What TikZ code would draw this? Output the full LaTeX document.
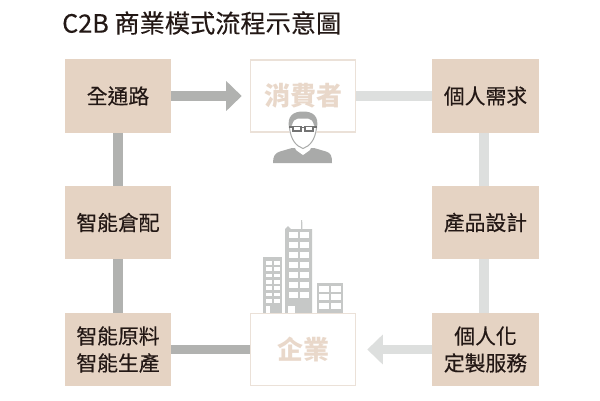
\documentclass[tikz,border=0pt]{standalone}
\usepackage{fontspec}
\setmainfont[FakeBold=0.3]{Noto Sans CJK TC}
\newfontfamily\paleface{Noto Sans CJK TC}
\usetikzlibrary{arrows.meta}
\definecolor{tan}{HTML}{E5D3C3}
\definecolor{fade}{HTML}{E9D8CA}
\definecolor{edge}{HTML}{EBE1D8}
\definecolor{ink}{HTML}{231815}
\definecolor{darkgr}{HTML}{B1B2B0}
\definecolor{lightgr}{HTML}{DDDFDE}
\definecolor{icon}{HTML}{A9AAA9}
\definecolor{bld}{HTML}{C6C8C7}
\tikzset{
 solidbox/.style={fill=tan,minimum width=106.5pt,minimum height=73.5pt,inner sep=0pt,text=ink,font=\fontsize{20.8}{27}\selectfont,align=center},
 palebox/.style={fill=white,draw=edge,line width=1.6pt,minimum width=105pt,minimum height=72pt,inner sep=0pt,text=fade,font=\fontsize{26}{30}\paleface\bfseries},
 darkline/.style={draw=darkgr,line width=9.5pt},
 paleline/.style={draw=lightgr,line width=9.5pt},
 headtip/.style={-{Triangle[length=15.5pt,width=29pt]}},
 win/.style={fill=white,draw=none}
}
\begin{document}
\begin{tikzpicture}[x=1pt,y=-1pt]
\useasboundingbox[fill=white] (0,0) rectangle (600,400);
\node[anchor=west,text=ink,font=\fontsize{25.2}{30}\selectfont,inner sep=0pt] (title) at (62,23) {C2B 商業模式流程示意圖};
\node[solidbox] (a) at (118,96) {全通路};
\node[solidbox] (b) at (118,222.5) {智能倉配};
\node[solidbox] (c) at (118,349.5) {智能原料\\智能生產};
\node[solidbox] (d) at (485.5,96) {個人需求};
\node[solidbox] (e) at (485.5,222.5) {產品設計};
\node[solidbox] (f) at (485.5,349.5) {個人化\\定製服務};
% buildings
\fill[bld] (263,257) rectangle (282,313);
\fill[bld] (285,229) -- (288,226) -- (291,229) -- (301,229) -- (301.2,220) -- (302.2,220) -- (302.4,229) -- (312,229) -- (312,313) -- (285,313) -- cycle;
\fill[bld] (316.5,283) rectangle (343,313);
\foreach \y in {261,267,273.5,280,286,292.5,299}{
 \fill[win] (265.5,\y) rectangle (271.5,\y+3.5);
 \fill[win] (273.5,\y) rectangle (279.5,\y+3.5);}
\fill[win] (265.5,306) rectangle (270,313);
\foreach \y in {232,242,252,262,272,282,292}{
 \fill[win] (289,\y) rectangle (297.5,\y+6);
 \fill[win] (300,\y) rectangle (308.5,\y+6);}
\fill[win] (288,306) rectangle (294.5,313);
\foreach \y in {285.5,294,302.5}{
 \fill[win] (318.5,\y) rectangle (329,\y+6);
 \fill[win] (331,\y) rectangle (341,\y+6);}
\node[palebox] (g) at (303,96) {消費者};
\node[palebox] (h) at (303,349.5) {企業};
% connectors
\draw[darkline] (a) -- (b);
\draw[darkline] (b) -- (c);
\draw[paleline] ([xshift=-1.5pt]d.south) -- ([xshift=-1.5pt]e.north);
\draw[paleline] ([xshift=-1.5pt]e.south) -- ([xshift=-1.5pt]f.north);
\draw[darkline,headtip,shorten >=8pt] (a.east) -- (g.west);
\draw[paleline] (g.east) -- (d.west);
\draw[darkline] (c.east) -- (h.west);
\draw[paleline,headtip,shorten >=11pt] (f.west) -- (h.east);
% person
\fill[icon] (273,163) .. controls (273,156) and (275,153) .. (280,151.5) -- (292,148) -- (314,148) -- (326,151.5) .. controls (331,153) and (332,156) .. (332,163) -- cycle;
\fill[white] (289,126) .. controls (289,140) and (296,148) .. (296,150) -- (303,155) -- (310,150) .. controls (310,148) and (317,140) .. (317,126) -- cycle;
\draw[icon,line width=1pt] (289.5,128) .. controls (291,140) and (296,146) .. (303,148.5) .. controls (310,146) and (315,140) .. (316.5,128);
\fill[icon] (289,128) .. controls (287,116) and (293,111.5) .. (303,111.5) .. controls (313,111.5) and (319,116) .. (317,128) -- (314,125) .. controls (313,121) and (311,118.5) .. (308,118.5) -- (298,118.5) .. controls (295,118.5) and (293,121) .. (292,125) -- cycle;
\draw[black!55,line width=1.5pt,fill=white] (293,126.5) rectangle (301,131) (305,126.5) rectangle (313,131);
\draw[black!55,line width=1.3pt] (289,127) -- (293,127) (301,127.5) -- (305,127.5) (313,127) -- (317,127);
\end{tikzpicture}
\end{document}
